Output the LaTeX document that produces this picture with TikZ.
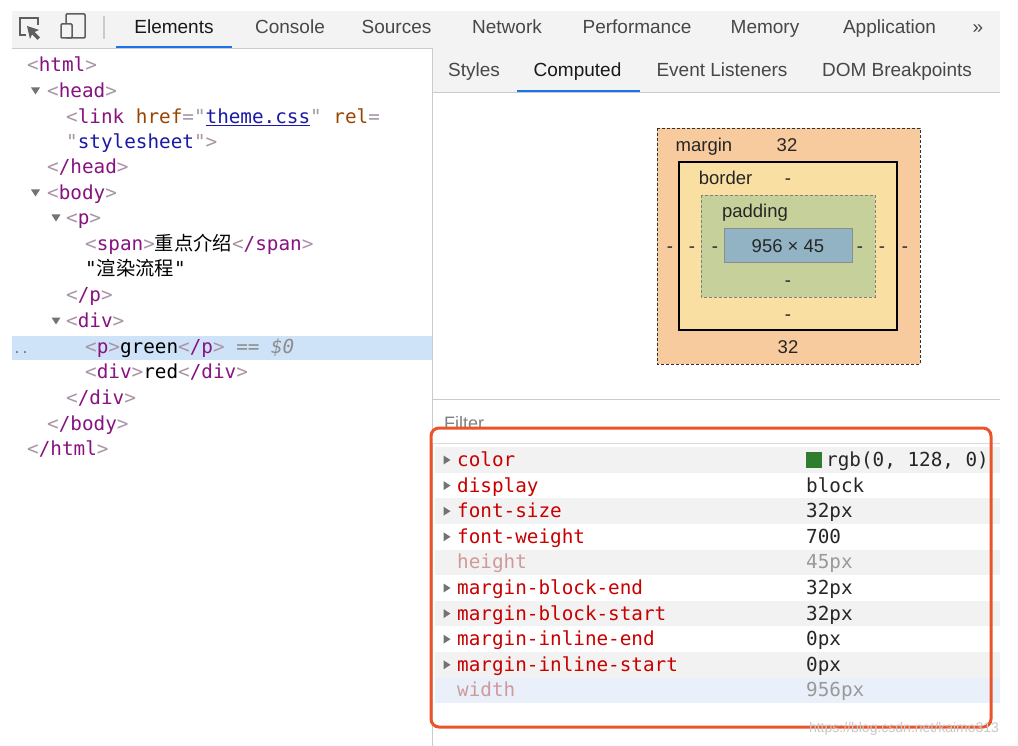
\documentclass[tikz,border=0pt]{standalone}
\usepackage{fontspec}
\setmainfont{Liberation Sans}
\newfontfamily\monof{DejaVu Sans Mono}
\newfontfamily\cjkf{Noto Sans CJK SC}
\definecolor{barbg}{HTML}{F3F3F3}
\definecolor{barline}{HTML}{CBCBCB}
\definecolor{tabtxt}{HTML}{474747}
\definecolor{actblue}{HTML}{1A73E8}
\definecolor{tagc}{HTML}{881280}
\definecolor{brkc}{HTML}{A894A6}
\definecolor{attrc}{HTML}{994500}
\definecolor{valc}{HTML}{1A1AA6}
\definecolor{selrow}{HTML}{CFE3F8}
\definecolor{propc}{HTML}{C80000}
\definecolor{inhc}{HTML}{D09A9A}
\definecolor{redbox}{HTML}{E9542A}
\definecolor{rowgray}{HTML}{F2F2F2}
\definecolor{rowblue}{HTML}{EAF0FA}
\definecolor{mcol}{HTML}{F8CB9F}
\definecolor{bcol}{HTML}{FADFA2}
\definecolor{pcol}{HTML}{C5D09A}
\definecolor{ccol}{HTML}{92B3C4}
\definecolor{swg}{HTML}{2F7D2F}
\definecolor{icong}{HTML}{5E5E5E}
\newcommand\Lb{\textcolor{brkc}{<}}
\newcommand\Rb{\textcolor{brkc}{>}}
\newcommand\Tn[1]{\textcolor{tagc}{#1}}
\newcommand\OpenT[1]{\Lb\Tn{#1}\Rb}
\newcommand\CloseT[1]{\Lb\Tn{/#1}\Rb}
\tikzset{
  ui/.style={font=\fontsize{19}{22}\selectfont, text=tabtxt, inner sep=0, anchor=base},
  code/.style={anchor=base west, inner sep=0, font=\monof\fontsize{19.3}{22}\selectfont},
  bm/.style={font=\fontsize{18.5}{20}\selectfont, inner sep=0, text=black!85, anchor=base},
  prop/.style={code, text=propc},
  inh/.style={code, text=inhc},
  pval/.style={code, text=black!85},
  ival/.style={code, text=black!40},
  dtri/.pic={\fill[black!55] (-4.5,-3.5) -- (4.5,-3.5) -- (0,3.5) -- cycle;},
  rtri/.pic={\fill[black!55] (-3.5,-4.5) -- (3.5,0) -- (-3.5,4.5) -- cycle;},
}
\begin{document}
\begin{tikzpicture}[x=1pt,y=-1pt]
\useasboundingbox (0,0) rectangle (1018,746);
\fill[white] (0,0) rectangle (1018,746);
% ---------- top toolbar ----------
\fill[barbg] (12,11) rectangle (1000,48);
\draw[barline] (12,48) -- (1000,48);
% inspect icon
\draw[icong, line width=1.5] (26,35) -- (20,35) -- (20,18) -- (38,18) -- (38,25);
\fill[icong] (27,26) -- (39,30) -- (34.5,32) -- (40,37.5) -- (37.5,40) -- (32,34.5) -- (30,39) -- cycle;
% device icon
\draw[icong, line width=1.5, rounded corners=1] (66,14) rectangle (85,38);
\filldraw[fill=barbg, draw=icong, line width=1.5, rounded corners=1] (61,24) rectangle (72,38);
\draw[barline, line width=1.2] (104,16) -- (104,39);
\node[ui, text=black!90] (tElements) at (174,33.5) {Elements};
\node[ui] (tConsole) at (290,33.5) {Console};
\node[ui] (tSources) at (396.5,33.5) {Sources};
\node[ui] (tNetwork) at (507,33.5) {Network};
\node[ui] (tPerf) at (637,33.5) {Performance};
\node[ui] (tMemory) at (765,33.5) {Memory};
\node[ui] (tApp) at (889.5,33.5) {Application};
\node[ui] (tMore) at (978,33.5) {»};
\draw[actblue, line width=2.5] (116,47) -- (232,47);
% ---------- right sub-tabs ----------
\fill[barbg] (432,48.5) rectangle (1000,92);
\draw[barline] (432,92) -- (1000,92);
\draw[barline] (432,48) -- (432,746);
\node[ui] (sStyles) at (474,76.5) {Styles};
\node[ui, text=black!90] (sComputed) at (577.5,76.5) {Computed};
\node[ui] (sEvent) at (722,76.5) {Event Listeners};
\node[ui] (sDOM) at (897,76.5) {DOM Breakpoints};
\draw[actblue, line width=2.5] (517,91) -- (640,91);
% ---------- DOM tree ----------
\fill[selrow] (12,336) rectangle (432,360);
\node[code, text=black!55, font=\monof\fontsize{13}{14}\selectfont] (dots) at (13,353) {..};
\node[code] (n1) at (27,71.5) {\OpenT{html}};
\pic at (35.5,91) {dtri};
\node[code] (n2) at (47,97.5) {\OpenT{head}};
\node[code] (n3) at (66,123.5) {\Lb\Tn{link} \textcolor{attrc}{href}\textcolor{brkc}{="}\textcolor{valc}{\underline{theme.css}}\textcolor{brkc}{"} \textcolor{attrc}{rel}\textcolor{brkc}{=}};
\node[code] (n4) at (66,148.5) {\textcolor{brkc}{"}\textcolor{valc}{stylesheet}\textcolor{brkc}{"}\Rb};
\node[code] (n5) at (47,173.5) {\CloseT{head}};
\pic at (35.5,193) {dtri};
\node[code] (n6) at (47,199.5) {\OpenT{body}};
\pic at (56,218) {dtri};
\node[code] (n7) at (66,224.5) {\OpenT{p}};
\node[code] (n8) at (85,250.5) {\OpenT{span}{\cjkf 重点介绍}\CloseT{span}};
\node[code] (n9) at (85,275.5) {"{\cjkf 渲染流程}"};
\node[code] (n10) at (66,301.5) {\CloseT{p}};
\pic at (56,321) {dtri};
\node[code] (n11) at (66,327.5) {\OpenT{div}};
\node[code] (n12) at (85,353.5) {\OpenT{p}green\CloseT{p} \textcolor{black!45}{== \textit{\$0}}};
\node[code] (n13) at (85,378.5) {\OpenT{div}red\CloseT{div}};
\node[code] (n14) at (66,404.5) {\CloseT{div}};
\node[code] (n15) at (47,430.5) {\CloseT{body}};
\node[code] (n16) at (27,455.5) {\CloseT{html}};
% ---------- box model ----------
\filldraw[fill=mcol, draw=black!80, dash pattern=on 3pt off 2pt, line width=0.9] (657,128) rectangle (920,364);
\filldraw[fill=bcol, draw=black, line width=1.2] (679,162) rectangle (897,330);
\filldraw[fill=pcol, draw=black!50, dash pattern=on 3pt off 2pt, line width=0.9] (701,195) rectangle (875,297);
\filldraw[fill=ccol, draw=black!45, line width=1] (724,229) rectangle (852,263);
\node[bm] (bmMargin) at (704,151.5) {margin};
\node[bm] (bmMarginTop) at (787,151.5) {32};
\node[bm] (bmBorder) at (725.5,184.5) {border};
\node[bm] (bmBorderTop) at (788,184.5) {-};
\node[bm] (bmPadding) at (755,217.5) {padding};
\node[bm] (bmContent) at (788,252.5) {956 × 45};
\node[bm] (bmML) at (670,252.5) {-};
\node[bm] (bmBL) at (692,252.5) {-};
\node[bm] (bmPL) at (715,252.5) {-};
\node[bm] (bmPR) at (860,252.5) {-};
\node[bm] (bmBR) at (882,252.5) {-};
\node[bm] (bmMR) at (905,252.5) {-};
\node[bm] (bmPB) at (788,286.5) {-};
\node[bm] (bmBB) at (788,320.5) {-};
\node[bm] (bmMarginBot) at (788,353.5) {32};
% ---------- filter & properties ----------
\draw[barline] (432,399) -- (1000,399);
\node[anchor=base west, inner sep=0, text=black!50, font=\fontsize{18}{20}\selectfont] (filter) at (444,429) {Filter};
\fill[white] (432,430) rectangle (1000,443);
\draw[barline!70] (432,443) -- (1000,443);
\fill[rowgray] (435,447.2) rectangle (1000,472.8);
\fill[rowgray] (435,498.4) rectangle (1000,524.0);
\fill[rowgray] (435,549.6) rectangle (1000,575.2);
\fill[rowgray] (435,600.8) rectangle (1000,626.4);
\fill[rowgray] (435,652.0) rectangle (1000,677.6);
\fill[rowblue] (435,677.6) rectangle (1000,703.2);
\pic at (447,460) {rtri};
\pic at (447,485.6) {rtri};
\pic at (447,511.2) {rtri};
\pic at (447,536.8) {rtri};
\pic at (447,588) {rtri};
\pic at (447,613.6) {rtri};
\pic at (447,639.2) {rtri};
\pic at (447,664.8) {rtri};
\node[prop] (pColor) at (457,466.5) {color};
\node[prop] (pDisplay) at (457,492.1) {display};
\node[prop] (pFs) at (457,517.7) {font-size};
\node[prop] (pFw) at (457,543.3) {font-weight};
\node[inh] (pHeight) at (457,568.9) {height};
\node[prop] (pMbe) at (457,594.5) {margin-block-end};
\node[prop] (pMbs) at (457,620.1) {margin-block-start};
\node[prop] (pMie) at (457,645.7) {margin-inline-end};
\node[prop] (pMis) at (457,671.3) {margin-inline-start};
\node[inh] (pWidth) at (457,696.9) {width};
\fill[swg] (806,452) rectangle (822,468);
\node[pval] (vColor) at (826,466.5) {rgb(0, 128, 0)};
\node[pval] (vDisplay) at (806,492.1) {block};
\node[pval] (vFs) at (806,517.7) {32px};
\node[pval] (vFw) at (806,543.3) {700};
\node[ival] (vHeight) at (806,568.9) {45px};
\node[pval] (vMbe) at (806,594.5) {32px};
\node[pval] (vMbs) at (806,620.1) {32px};
\node[pval] (vMie) at (806,645.7) {0px};
\node[pval] (vMis) at (806,671.3) {0px};
\node[ival] (vWidth) at (806,696.9) {956px};
% red highlight box
\draw[redbox, line width=3, rounded corners=8] (431,428) rectangle (991,727);
% watermark
\node[inner sep=0, text=black!22, font=\fontsize{14}{16}\selectfont] (wm) at (904,729) {https://blog.csdn.net/kaimo313};
\end{tikzpicture}
\end{document}
